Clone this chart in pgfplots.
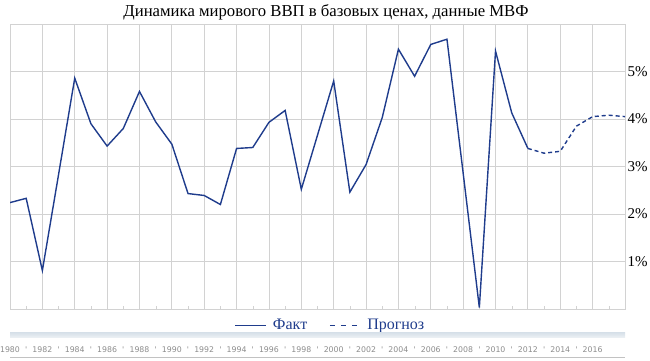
\documentclass[border=0pt]{standalone}
\usepackage{fontspec}
\setmainfont{Liberation Serif}
\newfontfamily\navfont{DejaVu Sans}
\usepackage{pgfplots}
\pgfplotsset{compat=1.18}
\definecolor{lineblue}{HTML}{1F3C8C}
\definecolor{gridc}{HTML}{D2D2D2}
\definecolor{bandtop}{HTML}{D9E2EA}
\definecolor{bandbot}{HTML}{EEF2F5}
\begin{document}
\begin{tikzpicture}[x=1pt,y=1pt]
\useasboundingbox (0,0) rectangle (650,361);
\node[font=\fontsize{16.7}{20}\selectfont] at (326,349) {Динамика мирового ВВП в базовых ценах, данные МВФ};
\begin{axis}[
  at={(10pt,52pt)}, anchor=south west,
  scale only axis, width=615pt, height=285pt,
  xmin=1980, xmax=2018, ymin=0, ymax=6,
  xtick={1980,1982,...,2018}, xticklabels={},
  minor xtick={1981,1983,...,2017},
  ytick={1,2,3,4,5},
  yticklabel={\pgfmathprintnumber{\tick}\%},
  yticklabel pos=right,
  /pgf/number format/assume math mode=true,
  yticklabel style={font=\fontsize{15}{16}\selectfont, xshift=-1pt},
  xtick pos=lower,
  major tick length=0pt, minor tick length=3pt,
  minor tick style={gridc},
  xmajorgrids, ymajorgrids,
  major grid style={gridc, line width=0.8pt},
  axis line style={gridc, line width=0.8pt},
  legend columns=2,
  legend style={at={(axis description cs:0.521,-0.057)}, anchor=center, draw=none, fill=none,
    font=\fontsize{16}{18}\selectfont, text=lineblue,
    /tikz/every odd column/.append style={column sep=4pt},
    /tikz/every even column/.append style={column sep=20pt}},
  legend image code/.code={\draw[#1] (0pt,0pt) -- (31pt,0pt);},
]
\addplot[lineblue, line width=1.4pt] coordinates {
(1980,2.24) (1981,2.33) (1982,0.81) (1983,2.83) (1984,4.86) (1985,3.90)
(1986,3.43) (1987,3.80) (1988,4.58) (1989,3.94) (1990,3.47) (1991,2.43)
(1992,2.39) (1993,2.20) (1994,3.38) (1995,3.40) (1996,3.93) (1997,4.18)
(1998,2.52) (1999,3.66) (2000,4.80) (2001,2.46) (2002,3.04) (2003,4.03)
(2004,5.47) (2005,4.90) (2006,5.57) (2007,5.68) (2008,2.86) (2009,0.03)
(2010,5.43) (2011,4.13) (2012,3.38)};
\addlegendentry{Факт}
\addplot[lineblue, line width=1.4pt, dash pattern=on 4pt off 3pt,
  legend image post style={line width=1pt, dash pattern=on 5pt off 6pt}] coordinates {
(2012,3.38) (2013,3.28) (2014,3.32) (2015,3.85) (2016,4.05) (2017,4.08) (2018,4.05)};
\addlegendentry{Прогноз}
\end{axis}
\begin{axis}[
  at={(10pt,3pt)}, anchor=south west,
  scale only axis, width=615pt, height=25pt,
  xmin=1980, xmax=2018, ymin=0, ymax=1,
  axis y line=none, axis x line*=bottom,
  axis line style={gridc!80!gray, line width=1pt},
  xtick={1980,1981,...,2016},
  xticklabels={1980,',1982,',1984,',1986,',1988,',1990,',1992,',1994,',1996,',1998,',2000,',2002,',2004,',2006,',2008,',2010,',2012,',2014,',2016},
  major tick length=0pt,
  xticklabel style={font=\navfont\fontsize{7.8}{8}\selectfont, text=gray!90, anchor=base, yshift=5pt},
]
\fill[top color=bandtop, bottom color=bandbot, draw=none] (rel axis cs:0,0.8) rectangle (rel axis cs:1,1);
\end{axis}
\end{tikzpicture}
\end{document}
